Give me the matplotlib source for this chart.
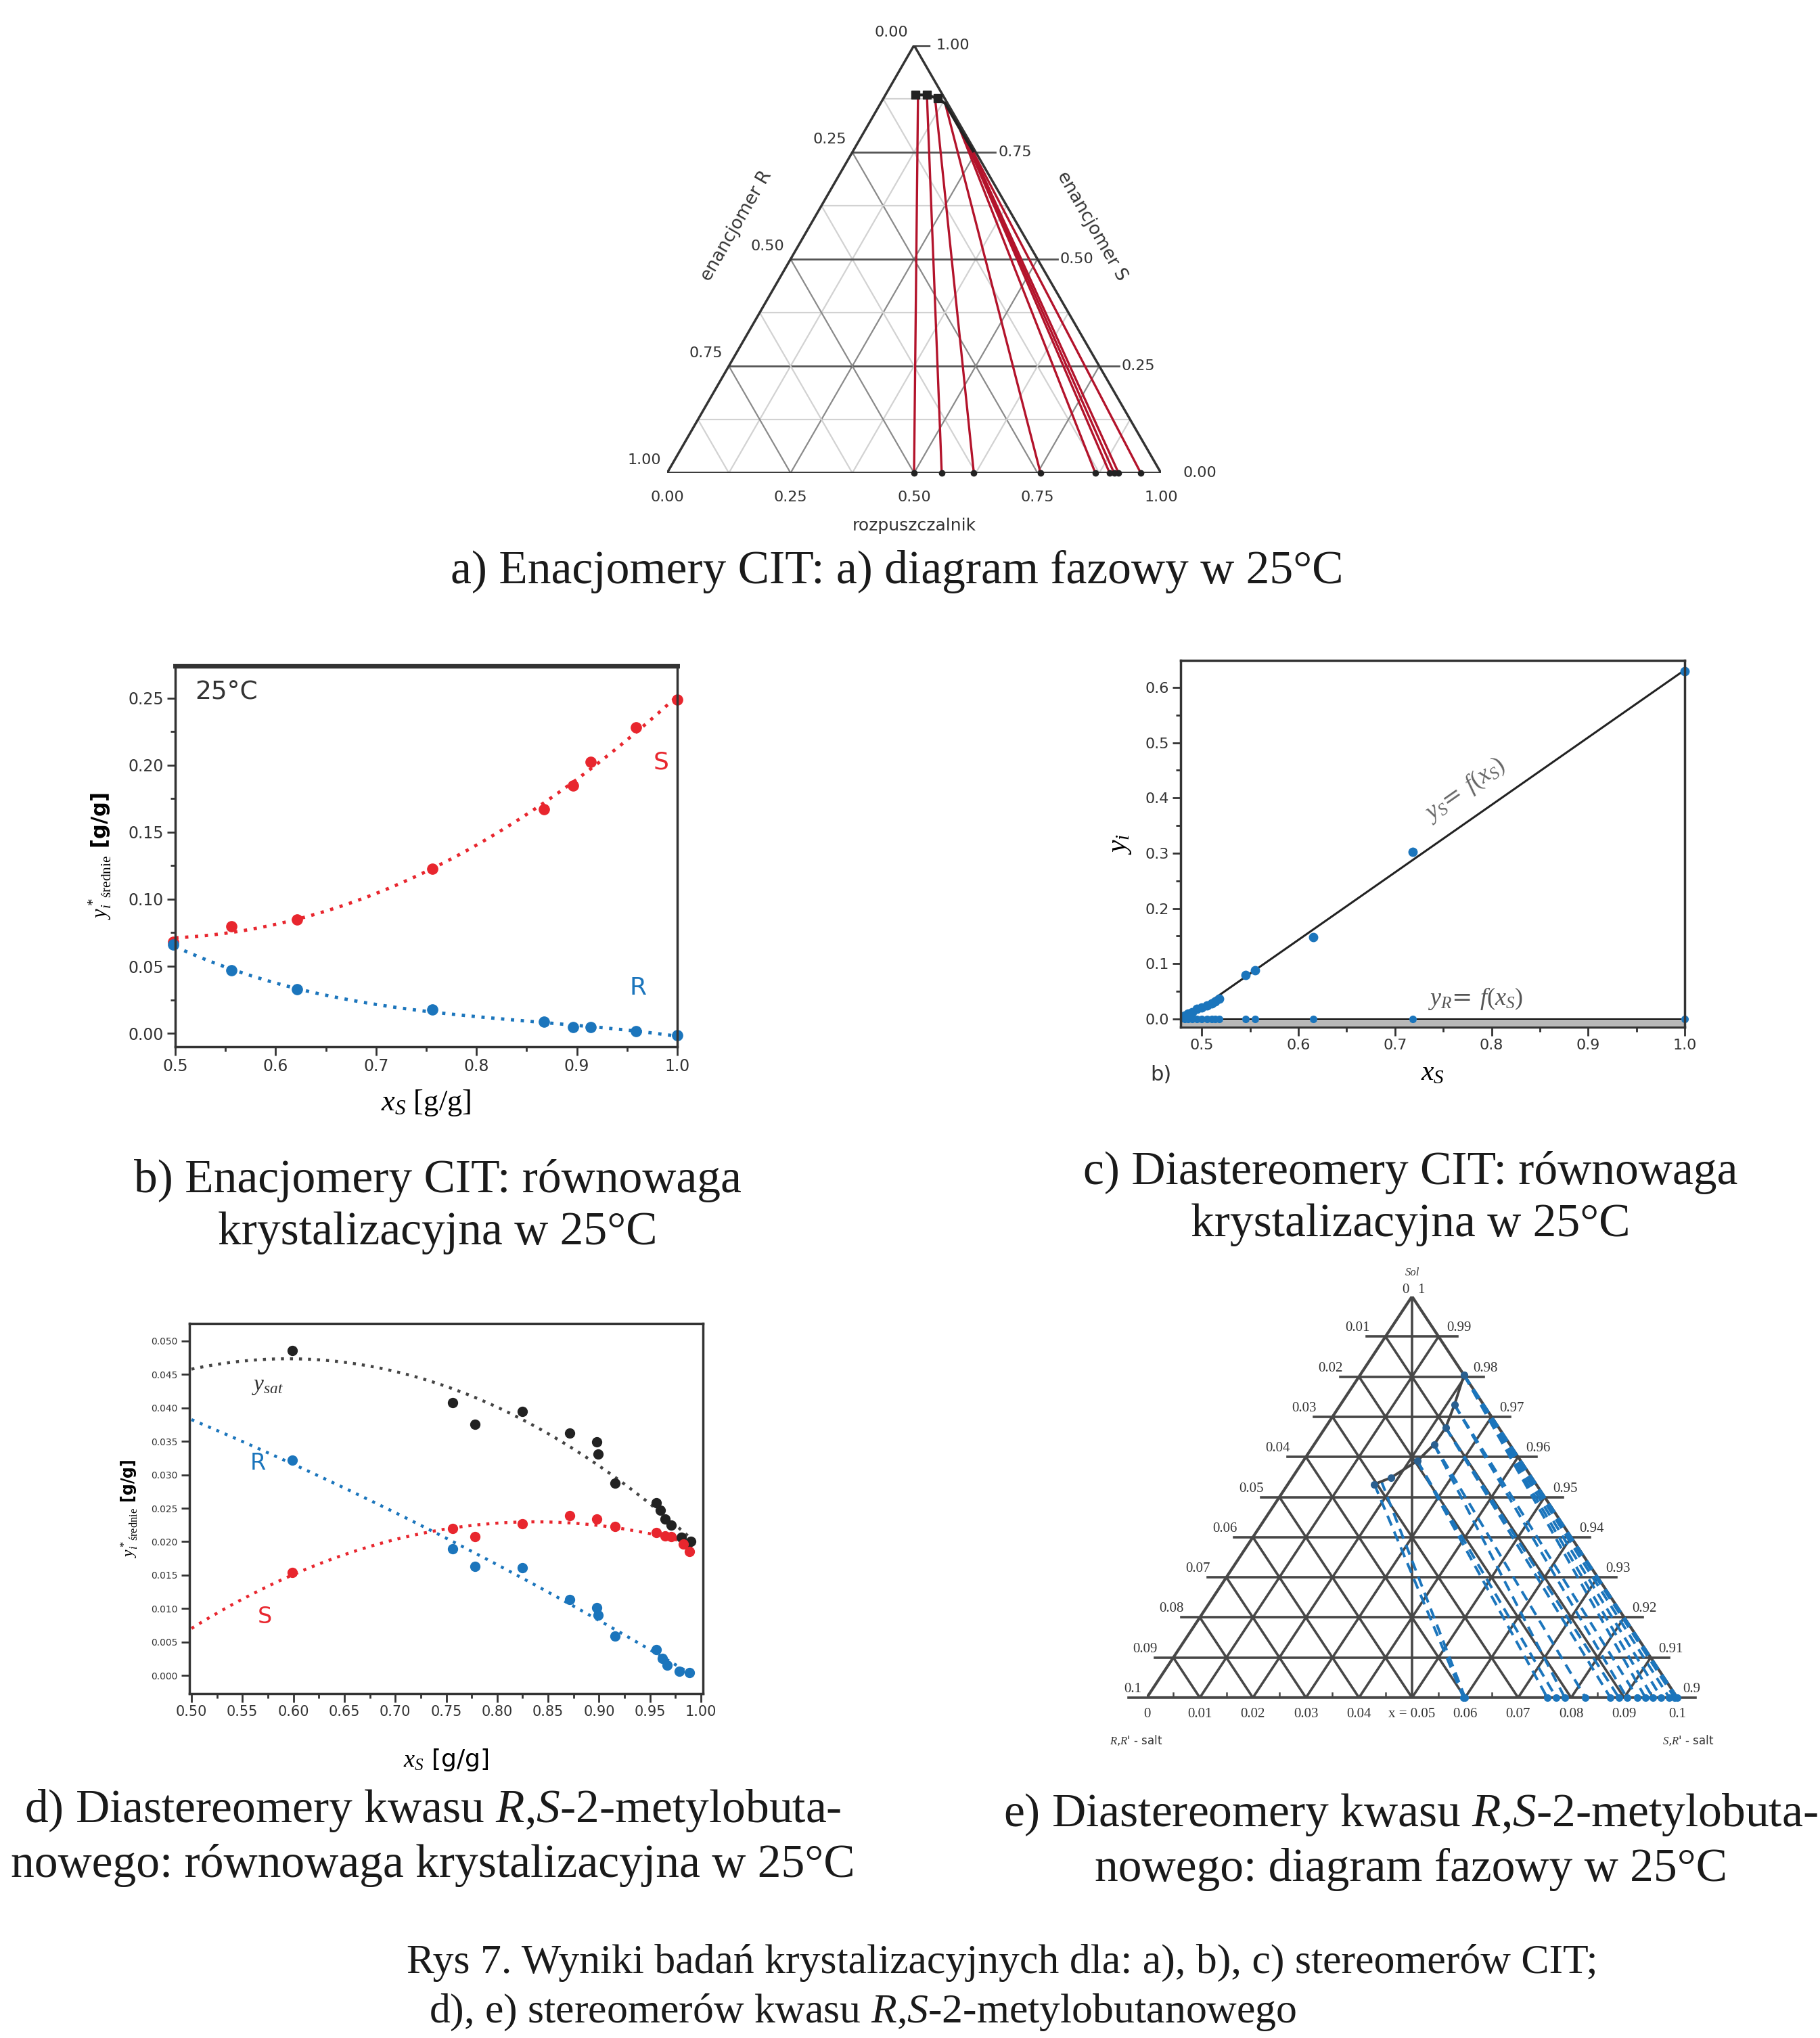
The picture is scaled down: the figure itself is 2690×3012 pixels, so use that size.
import numpy as np
import matplotlib.pyplot as plt
from matplotlib.ticker import MultipleLocator

W, H = 2690, 3012

RED = '#e8262e'
BLUE = '#1b75bc'
DARKRED = '#b3132b'
SERIF = 'Liberation Serif'
SANS = 'DejaVu Sans'

# a) ternary CIT enantiomers: solubility curve (S fraction, solvent fraction)
a_curve_S = [0.884, 0.884, 0.876, 0.864, 0.830, 0.800, 0.753]
a_curve_solv = [0.061, 0.084, 0.110, 0.131, 0.165, 0.195, 0.243]
# tie lines: top point (S, solvent) -> bottom point (solvent, S = 0)
a_tie_S = [0.884, 0.884, 0.882, 0.864, 0.800, 0.790, 0.780, 0.775, 0.770]
a_tie_solv = [0.066, 0.084, 0.101, 0.131, 0.194, 0.205, 0.215, 0.221, 0.226]
a_tie_bottom = [0.500, 0.556, 0.621, 0.756, 0.867, 0.896, 0.905, 0.914, 0.959]
a_ticks = ['0.00', '0.25', '0.50', '0.75', '1.00']

# b) CIT enantiomers, equilibrium at 25 C
b_xs = [0.498, 0.556, 0.621, 0.756, 0.867, 0.896, 0.914, 0.959, 1.000]
b_yS = [0.068, 0.080, 0.0846, 0.1225, 0.167, 0.1846, 0.2026, 0.228, 0.249]
b_yR = [0.066, 0.047, 0.0327, 0.0176, 0.0086, 0.0047, 0.0045, 0.0018, -0.0016]

# c) CIT diastereomers
c_xs = [0.482, 0.486, 0.490, 0.495, 0.500, 0.505, 0.510, 0.514, 0.518,
        0.545, 0.555, 0.615, 0.718, 1.000]
c_yS = [0.006, 0.010, 0.012, 0.018, 0.020, 0.024, 0.028, 0.032, 0.036,
        0.079, 0.088, 0.148, 0.302, 0.629]
c_yR = [0.0] * 14

# d) 2-methylbutanoic acid diastereomers
d_x_sat = [0.599, 0.756, 0.778, 0.825, 0.871, 0.898, 0.899, 0.916, 0.956,
           0.960, 0.965, 0.971, 0.981, 0.987, 0.990]
d_y_sat = [0.0486, 0.0408, 0.0375, 0.0395, 0.0362, 0.0349, 0.0331, 0.0287,
           0.0258, 0.0247, 0.0234, 0.0225, 0.0207, 0.0196, 0.0200]
d_x_R = [0.599, 0.756, 0.778, 0.825, 0.871, 0.898, 0.899, 0.916, 0.956,
         0.962, 0.967, 0.979, 0.989]
d_y_R = [0.0322, 0.0189, 0.0163, 0.0161, 0.0114, 0.0101, 0.0090, 0.0059,
         0.0039, 0.0026, 0.0015, 0.0006, 0.0004]
d_x_S = [0.599, 0.756, 0.778, 0.825, 0.871, 0.898, 0.916, 0.956, 0.965,
         0.971, 0.983, 0.989]
d_y_S = [0.0154, 0.0220, 0.0208, 0.0227, 0.0239, 0.0234, 0.0223, 0.0214,
         0.0209, 0.0208, 0.0196, 0.0185]

# e) ternary of the acid diastereomer salts (Sal fraction s, S,R'-salt fraction b)
e_curve_s = [0.9532, 0.9548, 0.9590, 0.9631, 0.9673, 0.9730, 0.9804]
e_curve_b = [0.0163, 0.0186, 0.0215, 0.0226, 0.0227, 0.0215, 0.0196]
e_tie_s = [0.9532, 0.9540, 0.9590, 0.9590, 0.9631, 0.9631, 0.9673, 0.9673,
           0.9730, 0.9730, 0.9804, 0.9804, 0.9804, 0.9804, 0.9804, 0.9804]
e_tie_b = [0.0163, 0.0172, 0.0215, 0.0215, 0.0226, 0.0226, 0.0227, 0.0227,
           0.0215, 0.0215, 0.0196, 0.0196, 0.0196, 0.0196, 0.0196, 0.0196]
e_tie_bottom = [0.0597, 0.0600, 0.0755, 0.0772, 0.0788, 0.0827, 0.0874, 0.0890,
                0.0905, 0.0925, 0.0940, 0.0954, 0.0970, 0.0985, 0.0995, 0.1000]
e_left_labels = ['0.01', '0.02', '0.03', '0.04', '0.05', '0.06', '0.07', '0.08', '0.09']
e_right_labels = ['0.99', '0.98', '0.97', '0.96', '0.95', '0.94', '0.93', '0.92', '0.91']
e_bottom_labels = ['0', '0.01', '0.02', '0.03', '0.04', 'x = 0.05', '0.06',
                   '0.07', '0.08', '0.09', '0.1']

plt.rcParams['mathtext.fontset'] = 'custom'
plt.rcParams['mathtext.rm'] = SERIF
plt.rcParams['mathtext.it'] = SERIF + ':italic'
plt.rcParams['mathtext.bf'] = SERIF + ':bold'

fig = plt.figure(figsize=(W / 100, H / 100), dpi=100)


def px_axes(left, top, right, bottom):
    """axes placed by pixel box of the reference"""
    return fig.add_axes([left / W, 1 - bottom / H, (right - left) / W, (bottom - top) / H])


def caption(x, y, s, size=50, **kw):
    fig.text(x / W, 1 - y / H, s, fontsize=size, family=SERIF, va='center',
             color='#1a1a1a', **kw)


def style_axes(ax, fs):
    ax.tick_params(which='both', direction='out', colors='#333', labelsize=fs, width=2)
    ax.tick_params(which='major', length=9)
    ax.tick_params(which='minor', length=5)
    for sp in ax.spines.values():
        sp.set_linewidth(2.5)
        sp.set_color('#333')
    for lab in ax.get_xticklabels() + ax.get_yticklabels():
        lab.set_family(SANS)


# ---------------- a) ----------------
r3 = np.sqrt(3) / 2


def tern_a(S, solv):
    S = np.asarray(S, dtype=float)
    solv = np.asarray(solv, dtype=float)
    return solv + S / 2, S * r3


axa = px_axes(986, 67, 1716, 699)
axa.set_xlim(0, 1)
axa.set_ylim(0, r3)
axa.axis('off')
for k in range(1, 8):
    v = k / 8
    major = k % 2 == 0
    col = '#8a8a8a' if major else '#d2d2d2'
    # lines of constant solvent and constant R
    axa.plot(*tern_a([0, 1 - v], [v, v]), color=col, lw=1.6, zorder=1)
    axa.plot(*tern_a([0, 1 - v], [1 - v, 0]), color=col, lw=1.6, zorder=1)
    hcol = '#555555' if major else '#d2d2d2'
    x0, y0 = tern_a(v, 0)
    x1, y1 = tern_a(v, 1 - v)
    axa.plot([x0, x1 + (0.04 if major else 0)], [y0, y1], color=hcol,
             lw=2 if major else 1.6, zorder=1)
axa.plot(*tern_a([1, 0, 0, 1], [0, 0, 1, 0]), color='#333', lw=2.5, zorder=2)
axa.plot([1.0, 1.03], [0, 0], color='#333', lw=2.5)
axa.plot([0.5, 0.53], [r3, r3], color='#333', lw=2.5)
for i, v in enumerate([0, 0.25, 0.5, 0.75, 1.0]):
    # bottom: solvent
    axa.text(v, -0.035, a_ticks[i], ha='center', va='top', fontsize=16,
             family=SANS, color='#333')
    axa.plot([v, v], [0, -0.015], color='#333', lw=2)
    # left: enantiomer R
    x, y = tern_a(1 - v, 0)
    axa.text(x - 0.012, y + 0.012, a_ticks[i], ha='right', va='bottom',
             fontsize=16, family=SANS, color='#333')
    # right: enantiomer S
    x, y = tern_a(1 - v, v)
    axa.text(x + 0.045, y, a_ticks[4 - i], ha='left', va='center',
             fontsize=16, family=SANS, color='#333')
axa.text(0.5, -0.09, 'rozpuszczalnik', ha='center', va='top', fontsize=18,
         family=SANS, color='#333')
axa.text(0.14, 0.50, 'enancjomer R', rotation=60, ha='center', va='center',
         fontsize=19, family=SANS, color='#333')
axa.text(0.86, 0.50, 'enancjomer S', rotation=-60, ha='center', va='center',
         fontsize=19, family=SANS, color='#333')
for S, sv, bot in zip(a_tie_S, a_tie_solv, a_tie_bottom):
    axa.plot(*tern_a([S, 0], [sv, bot]), color=DARKRED, lw=2.4, zorder=3)
axa.plot(*tern_a(a_curve_S, a_curve_solv), color='#222', lw=3, zorder=4)
axa.plot(*tern_a(a_curve_S[:3], a_curve_solv[:3]), 's', color='#222', ms=8, zorder=5)
axa.plot(*tern_a(np.zeros(len(a_tie_bottom)), a_tie_bottom), 'o', color='#222',
         ms=6, zorder=5, clip_on=False)
caption(1326, 845, 'a) Enacjomery CIT: a) diagram fazowy w 25°C', ha='center')

# ---------------- b) ----------------
axb = px_axes(259, 984, 1001, 1547)
xfit = np.linspace(0.5, 1.0, 200)
pS = np.polyfit(b_xs, b_yS, 2)
pR = np.polyfit(b_xs, b_yR, 3)
axb.plot(xfit, np.polyval(pS, xfit), color=RED, lw=3.5, ls=(0, (1, 2)))
axb.plot(xfit, np.polyval(pR, xfit), color=BLUE, lw=3.5, ls=(0, (1, 2)))
axb.plot(b_xs, b_yS, 'o', color=RED, ms=11, clip_on=False)
axb.plot(b_xs, b_yR, 'o', color=BLUE, ms=11, clip_on=False)
axb.set_xlim(0.5, 1.0)
axb.set_ylim(-0.01, 0.274)
axb.xaxis.set_major_locator(MultipleLocator(0.1))
axb.xaxis.set_minor_locator(MultipleLocator(0.05))
axb.yaxis.set_major_locator(MultipleLocator(0.05))
axb.yaxis.set_minor_locator(MultipleLocator(0.025))
axb.xaxis.set_major_formatter(lambda v, p: f'{v:.1f}')
axb.yaxis.set_major_formatter(lambda v, p: f'{v:.2f}')
style_axes(axb, 17)
axb.spines['top'].set_linewidth(5)
axb.text(0.04, 0.93, '25°C', transform=axb.transAxes, fontsize=27, family=SANS,
         color='#333', va='center')
axb.text(0.984, 0.202, 'S', color=RED, fontsize=26, family=SANS, ha='center', va='center')
axb.text(0.961, 0.034, 'R', color=BLUE, fontsize=26, family=SANS, ha='center', va='center')
axb.set_xlabel(r'$x_S$ [g/g]', fontsize=32, family=SERIF, labelpad=14)
axb.set_ylabel(r'$y^*_{i\ \ \mathrm{średnie}}$ [g/g]', fontsize=22, family=SANS,
               fontweight='bold', labelpad=16)
caption(647, 1745, 'b) Enacjomery CIT: równowaga', ha='center')
caption(647, 1822, 'krystalizacyjna w 25°C', ha='center')

# ---------------- c) ----------------
axc = px_axes(1745, 976, 2490, 1518)
pc = np.polyfit(c_xs, c_yS, 1)
xline = np.array([0.478, 1.0])
axc.axhspan(-0.013, -0.004, color='#b8b8b8', lw=0)
axc.plot(xline, np.polyval(pc, xline), color='#222', lw=2.2)
axc.plot(xline, [0, 0], color='#222', lw=2.2)
axc.plot(c_xs, c_yS, 'o', color=BLUE, ms=9, clip_on=False)
axc.plot(c_xs, c_yR, 'o', color=BLUE, ms=7, clip_on=False)
axc.set_xlim(0.478, 1.0)
axc.set_ylim(-0.015, 0.649)
axc.xaxis.set_major_locator(MultipleLocator(0.1))
axc.xaxis.set_minor_locator(MultipleLocator(0.05))
axc.yaxis.set_major_locator(MultipleLocator(0.1))
axc.yaxis.set_minor_locator(MultipleLocator(0.05))
axc.xaxis.set_major_formatter(lambda v, p: f'{v:.1f}')
axc.yaxis.set_major_formatter(lambda v, p: f'{v:.1f}')
style_axes(axc, 16)
ang = np.degrees(np.arctan(pc[0]))
axc.text(0.772, 0.415, r'$y_S$= $f(x_S)$', rotation=ang, transform_rotates_text=True,
         rotation_mode='anchor', ha='center', va='center', fontsize=26, color='#666')
axc.text(0.783, 0.037, r'$y_R$= $f(x_S)$', ha='center', va='center', fontsize=26,
         color='#555')
axc.set_xlabel(r'$x_S$', fontsize=30, labelpad=6)
axc.set_ylabel(r'$y_i$', fontsize=30, labelpad=12)
axc.text(-0.06, -0.13, 'b)', transform=axc.transAxes, fontsize=22, family=SANS,
         color='#333', va='center')
caption(2085, 1733, 'c) Diastereomery CIT: równowaga', ha='center')
caption(2085, 1810, 'krystalizacyjna w 25°C', ha='center')

# ---------------- d) ----------------
axd = px_axes(280, 1956, 1039, 2503)
xfit = np.linspace(0.5, 0.99, 200)
for xs, ys, col in [(d_x_sat, d_y_sat, '#444'), (d_x_R, d_y_R, BLUE), (d_x_S, d_y_S, RED)]:
    p = np.polyfit(xs, ys, 2)
    axd.plot(xfit, np.polyval(p, xfit), color=col, lw=3.2, ls=(0, (1, 2)))
axd.plot(d_x_sat, d_y_sat, 'o', color='#222', ms=10)
axd.plot(d_x_R, d_y_R, 'o', color=BLUE, ms=10)
axd.plot(d_x_S, d_y_S, 'o', color=RED, ms=10)
axd.set_xlim(0.498, 1.002)
axd.set_ylim(-0.0027, 0.0526)
axd.xaxis.set_major_locator(MultipleLocator(0.05))
axd.xaxis.set_minor_locator(MultipleLocator(0.025))
axd.yaxis.set_major_locator(MultipleLocator(0.005))
axd.xaxis.set_major_formatter(lambda v, p: f'{v:.2f}')
axd.yaxis.set_major_formatter(lambda v, p: f'{v:.3f}')
style_axes(axd, 15)
axd.tick_params(axis='y', labelsize=10)
axd.text(0.575, 0.0433, r'$y_{sat}$', fontsize=24, color='#333', ha='center', va='center')
axd.text(0.565, 0.0317, 'R', color=BLUE, fontsize=24, family=SANS, ha='center', va='center')
axd.text(0.572, 0.0088, 'S', color=RED, fontsize=24, family=SANS, ha='center', va='center')
axd.set_xlabel(r'$x_S$ [g/g]', fontsize=26, labelpad=30)
axd.set_ylabel(r'$y^*_{i\ \ \mathrm{średnie}}$ [g/g]', fontsize=17, family=SANS,
               fontweight='bold', labelpad=12)
caption(640, 2676, 'd) Diastereomery kwasu $R$,$S$-2-metylobuta-', ha='center')
caption(640, 2757, 'nowego: równowaga krystalizacyjna w 25°C', ha='center')


# ---------------- e) ----------------
def tern_e(s, b):
    h = (np.asarray(s, dtype=float) - 0.9) / 0.1
    return np.asarray(b, dtype=float) / 0.1 + h / 2, h


axe = px_axes(1695, 1916, 2479, 2509)
axe.set_xlim(0, 1)
axe.set_ylim(0, 1)
axe.axis('off')
GRID = '#474747'
ext = 0.035
for k in range(0, 10):
    h = k / 10
    axe.plot([h / 2 - ext, 1 - h / 2 + ext], [h, h], color=GRID, lw=2.6, zorder=1,
             clip_on=False)
for j in range(1, 10):
    f = j / 10
    axe.plot([f, f + (1 - f) / 2], [0, 1 - f], color=GRID, lw=2.6, zorder=1)
    axe.plot([1 - f, (1 - f) / 2], [0, 1 - f], color=GRID, lw=2.6, zorder=1)
axe.plot([0.5, 0.5], [0, 1], color=GRID, lw=2.6, zorder=1)
axe.plot([0, 1, 0.5, 0], [0, 0, 1, 0], color=GRID, lw=3, zorder=1)
for j in range(10):
    xm = (j + 0.5) / 10
    axe.plot([xm, xm], [-0.012, 0.012], color=GRID, lw=1.8, zorder=1)
lab_kw = dict(fontsize=15, family=SERIF, color='#333')
for k in range(1, 10):
    h = k / 10
    axe.text(h / 2 - ext + 0.005, h + 0.005, e_left_labels[9 - k], ha='right', va='bottom',
             **lab_kw)
    axe.text(1 - h / 2 + ext - 0.02, h + 0.005, e_right_labels[9 - k], ha='left',
             va='bottom', **lab_kw)
axe.text(-0.01, 0.005, '0.1', ha='right', va='bottom', **lab_kw)
axe.text(1.01, 0.005, '0.9', ha='left', va='bottom', **lab_kw)
axe.text(0.495, 1.0, '0', ha='right', va='bottom', **lab_kw)
axe.text(0.51, 1.0, '1', ha='left', va='bottom', **lab_kw)
axe.text(0.5, 1.045, 'Sol', ha='center', va='bottom', fontsize=12, family=SERIF,
         style='italic', color='#333')
for j in range(11):
    axe.text(j / 10, -0.025, e_bottom_labels[j], ha='center', va='top', **lab_kw)
axe.text(-0.07, -0.09, "$R$,$R$' - salt", ha='left', va='top', fontsize=12, color='#333')
axe.text(1.07, -0.09, "$S$,$R$' - salt", ha='right', va='top', fontsize=12, color='#333')
for s, b, bot in zip(e_tie_s, e_tie_b, e_tie_bottom):
    axe.plot(*tern_e([s, 0.9], [b, bot]), color=BLUE, lw=2.8, ls=(0, (4, 2.5)), zorder=3)
axe.plot(*tern_e(e_curve_s, e_curve_b), color='#444', lw=2.8, zorder=4)
axe.plot(*tern_e(e_curve_s, e_curve_b), 'o', color='#2a5f8f', ms=7, zorder=5)
axe.plot(*tern_e(np.full(len(e_tie_bottom), 0.9), e_tie_bottom), 'o', color=BLUE, ms=7,
         zorder=5, clip_on=False)
caption(2085, 2682, 'e) Diastereomery kwasu $R$,$S$-2-metylobuta-', ha='center')
caption(2085, 2763, 'nowego: diagram fazowy w 25°C', ha='center')

# ---------------- figure caption ----------------
caption(601, 2901, 'Rys 7. Wyniki badań krystalizacyjnych dla: a), b), c) stereomerów CIT;',
        size=44.5, ha='left')
caption(634, 2974, 'd), e) stereomerów kwasu $R$,$S$-2-metylobutanowego', size=44.5, ha='left')

fig.savefig('out.png', dpi=100, facecolor='white')
